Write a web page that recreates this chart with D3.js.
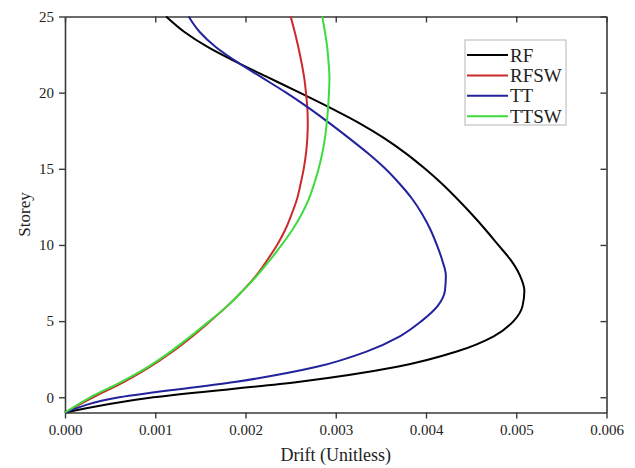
<!DOCTYPE html>
<html>
<head>
<meta charset="utf-8">
<script src="https://cdn.jsdelivr.net/npm/d3@7"></script>
<style>
  html, body { margin: 0; padding: 0; background: #fff; }
  svg { display: block; font-family: "Liberation Serif", "Times New Roman", serif; }
</style>
</head>
<body>
<svg id="chart" width="635" height="468"></svg>
<script>
// Storey levels (-1 = base) and inter-storey drift for each model
const storeys = [-1, 0, 1, 2, 3, 4, 5, 6, 7, 8, 9, 10, 11, 12, 13, 14, 15, 16, 17, 18, 19, 20, 21, 22, 23, 24, 25];
const driftRF   = [0, 0.00098, 0.00258, 0.00368, 0.00434, 0.00475, 0.00497, 0.00507, 0.00509, 0.00504, 0.00494, 0.00480, 0.00466, 0.00451, 0.00435, 0.00418, 0.00399, 0.00378, 0.00354, 0.00326, 0.00294, 0.00260, 0.00225, 0.00190, 0.00158, 0.00132, 0.00112];
const driftRFSW = [0, 0.00031, 0.00065, 0.00094, 0.00119, 0.00141, 0.00161, 0.00180, 0.00197, 0.00212, 0.00224, 0.00235, 0.00244, 0.00251, 0.00257, 0.00261, 0.002645, 0.00267, 0.002685, 0.00269, 0.002685, 0.00267, 0.00265, 0.00262, 0.002585, 0.002545, 0.00250];
const driftTT   = [0, 0.00060, 0.00188, 0.00279, 0.00334, 0.00371, 0.00395, 0.00413, 0.00421, 0.00422, 0.00418, 0.00412, 0.00405, 0.00396, 0.00385, 0.00371, 0.00355, 0.00336, 0.00315, 0.00293, 0.00270, 0.00245, 0.00218, 0.00191, 0.00167, 0.00149, 0.00137];
const driftTTSW = [0, 0.00028, 0.00062, 0.00092, 0.00117, 0.00139, 0.00160, 0.00180, 0.00197, 0.00213, 0.00227, 0.00240, 0.00252, 0.00262, 0.00270, 0.00276, 0.00281, 0.00285, 0.00288, 0.00290, 0.002915, 0.002925, 0.00293, 0.00292, 0.002905, 0.00288, 0.00285];

const seriesNames = ["RF", "RFSW", "TT", "TTSW"];
const seriesValues = [driftRF, driftRFSW, driftTT, driftTTSW];
const seriesColors = ["#000000", "#cc2a2a", "#22229c", "#3ddc3d"];

const xTicks = [0, 0.001, 0.002, 0.003, 0.004, 0.005, 0.006];
const yTicks = [0, 5, 10, 15, 20, 25];

const svg = d3.select("#chart");
const plot = { left: 65, right: 606.5, top: 16.5, bottom: 412.5 };

const x = d3.scaleLinear().domain([0, 0.006]).range([plot.left, plot.right]);
const y = d3.scaleLinear().domain([-1, 25]).range([plot.bottom, plot.top]);

const axisColor = "#3a3a3a";
const fmt = d3.format(".3f");

function styleAxis(g, showLabels) {
  g.select(".domain").attr("stroke", axisColor).attr("stroke-width", 1.6);
  g.selectAll(".tick line").attr("stroke", axisColor).attr("stroke-width", 1.4);
  g.selectAll(".tick text")
    .attr("fill", "#222")
    .style("font-size", "15px")
    .style("font-family", "'Liberation Serif', 'Times New Roman', serif")
    .style("display", showLabels ? null : "none");
}

// bottom axis: outward ticks with labels
svg.append("g")
  .attr("transform", `translate(0,${plot.bottom})`)
  .call(d3.axisBottom(x).tickValues(xTicks).tickFormat(fmt).tickSize(6).tickSizeOuter(0).tickPadding(6))
  .call(g => styleAxis(g, true));

// top axis: mirrored inward ticks, no labels
svg.append("g")
  .attr("transform", `translate(0,${plot.top})`)
  .call(d3.axisTop(x).tickValues(xTicks).tickSize(-6).tickSizeOuter(0))
  .call(g => styleAxis(g, false));

// left axis: outward ticks with labels
svg.append("g")
  .attr("transform", `translate(${plot.left},0)`)
  .call(d3.axisLeft(y).tickValues(yTicks).tickFormat(d3.format("d")).tickSize(6).tickSizeOuter(0).tickPadding(5))
  .call(g => styleAxis(g, true));

// right axis: mirrored inward ticks, no labels
svg.append("g")
  .attr("transform", `translate(${plot.right},0)`)
  .call(d3.axisRight(y).tickValues(yTicks).tickSize(-6).tickSizeOuter(0))
  .call(g => styleAxis(g, false));

// drift profiles (storey is the independent variable, plotted vertically)
const line = d3.line()
  .x(d => x(d[0]))
  .y(d => y(d[1]))
  .curve(d3.curveMonotoneY);

seriesValues.forEach((vals, i) => {
  svg.append("path")
    .datum(vals.map((v, k) => [v, storeys[k]]))
    .attr("fill", "none")
    .attr("stroke", seriesColors[i])
    .attr("stroke-width", 2)
    .attr("stroke-linejoin", "round")
    .attr("d", line);
});

// axis titles
svg.append("text")
  .attr("x", (plot.left + plot.right) / 2)
  .attr("y", 461)
  .attr("text-anchor", "middle")
  .attr("fill", "#222")
  .style("font-size", "18px")
  .text("Drift (Unitless)");

svg.append("text")
  .attr("transform", `translate(30,${(plot.top + plot.bottom) / 2}) rotate(-90)`)
  .attr("text-anchor", "middle")
  .attr("fill", "#222")
  .style("font-size", "17px")
  .text("Storey");

// legend
const legend = svg.append("g").attr("transform", "translate(465,40)");
legend.append("rect")
  .attr("x", 0).attr("y", 0)
  .attr("width", 101).attr("height", 85)
  .attr("fill", "#fff")
  .attr("stroke", "#b5b5b5")
  .attr("stroke-width", 1);

seriesNames.forEach((name, i) => {
  const cy = 15 + i * 20.4;
  legend.append("line")
    .attr("x1", 2).attr("x2", 43)
    .attr("y1", cy).attr("y2", cy)
    .attr("stroke", seriesColors[i])
    .attr("stroke-width", 2);
  legend.append("text")
    .attr("x", 45)
    .attr("y", cy + 6.5)
    .attr("fill", "#222")
    .style("font-size", "19px")
    .text(name);
});
</script>
</body>
</html>
